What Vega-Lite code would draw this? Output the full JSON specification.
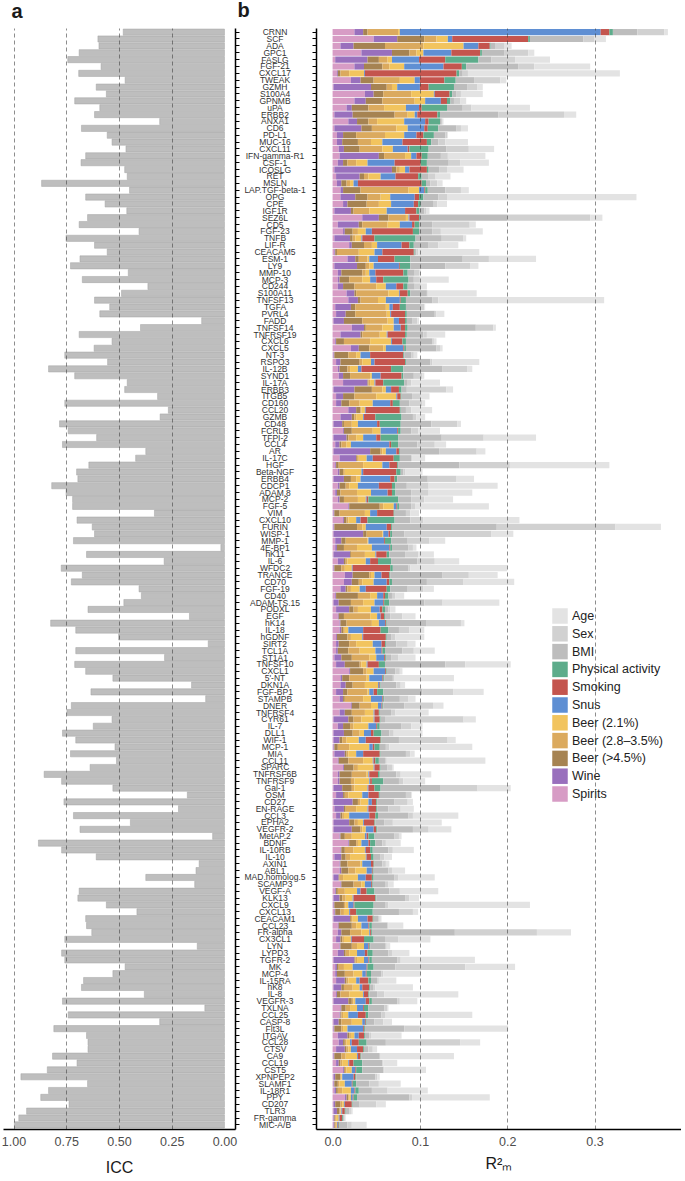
{
"$schema": "https://vega.github.io/schema/vega-lite/v6.json",
"padding": {"left": 1, "top": 1, "right": 0, "bottom": 0},
"background": "white",
"config": {"font": "Liberation Sans", "view": {"stroke": null}},
"datasets": {
"comps": [{"key":"age","name":"Age"},{"key":"sex","name":"Sex"},{"key":"bmi","name":"BMI"},{"key":"pa","name":"Physical activity"},{"key":"smk","name":"Smoking"},{"key":"snus","name":"Snus"},{"key":"b21","name":"Beer (2.1%)"},{"key":"b28","name":"Beer (2.8–3.5%)"},{"key":"b45","name":"Beer (>4.5%)"},{"key":"wine","name":"Wine"},{"key":"spir","name":"Spirits"}],
"prot": [
{"p":"CRNN","icc":0.48,"spir":0.025,"wine":0.010,"b45":0.005,"b28":0.035,"b21":0.002,"snus":0.230,"smk":0.010,"pa":0.004,"bmi":0.028,"sex":0.031,"age":0.004},
{"p":"SCF","icc":0.60,"spir":0.047,"wine":0.027,"b45":0.031,"b28":0.014,"b21":0.013,"snus":0.005,"smk":0.087,"pa":0.002,"bmi":0.061,"sex":0.013,"age":0.013},
{"p":"ADA","icc":0.595,"spir":0.009,"wine":0.015,"b45":0.036,"b28":0.044,"b21":0.046,"snus":0.017,"smk":0.013,"pa":0.001,"bmi":0.005,"sex":0.011,"age":0.008},
{"p":"GPC1","icc":0.689,"spir":0.033,"wine":0.035,"b45":0.020,"b28":0.008,"b21":0.008,"snus":0.032,"smk":0.033,"pa":0.002,"bmi":0.026,"sex":0.027,"age":0.007},
{"p":"FASLG","icc":0.743,"spir":0.003,"wine":0.037,"b45":0.013,"b28":0.010,"b21":0.005,"snus":0.031,"smk":0.030,"pa":0.038,"bmi":0.015,"sex":0.027,"age":0.040},
{"p":"FGF-21","icc":0.585,"spir":0.025,"wine":0.011,"b45":0.021,"b28":0.008,"b21":0.017,"snus":0.045,"smk":0.021,"pa":0.005,"bmi":0.060,"sex":0.018,"age":0.064},
{"p":"CXCL17","icc":0.691,"spir":0.005,"wine":0.001,"b45":0.003,"b28":0.010,"b21":0.017,"snus":0.001,"smk":0.105,"pa":0.003,"bmi":0.004,"sex":0.006,"age":0.174},
{"p":"TWEAK","icc":0.471,"spir":0.021,"wine":0.011,"b45":0.015,"b28":0.030,"b21":0.017,"snus":0.006,"smk":0.028,"pa":0.013,"bmi":0.021,"sex":0.030,"age":0.007},
{"p":"GZMH","icc":0.608,"spir":0.001,"wine":0.043,"b45":0.018,"b28":0.006,"b21":0.006,"snus":0.026,"smk":0.010,"pa":0.029,"bmi":0.015,"sex":0.012,"age":0.006},
{"p":"S100A4","icc":0.56,"spir":0.037,"wine":0.010,"b45":0.011,"b28":0.032,"b21":0.026,"snus":0.001,"smk":0.017,"pa":0.003,"bmi":0.005,"sex":0.005,"age":0.025},
{"p":"GPNMB","icc":0.71,"spir":0.025,"wine":0.013,"b45":0.019,"b28":0.037,"b21":0.012,"snus":0.018,"smk":0.007,"pa":0.004,"bmi":0.004,"sex":0.007,"age":0.007},
{"p":"uPA","icc":0.591,"spir":0.016,"wine":0.006,"b45":0.019,"b28":0.018,"b21":0.025,"snus":0.015,"smk":0.003,"pa":0.029,"bmi":0.018,"sex":0.010,"age":0.067},
{"p":"ERBB2","icc":0.616,"spir":0.002,"wine":0.021,"b45":0.048,"b28":0.015,"b21":0.008,"snus":0.003,"smk":0.023,"pa":0.003,"bmi":0.067,"sex":0.075,"age":0.014},
{"p":"ANXA1","icc":0.307,"spir":0.018,"wine":0.010,"b45":0.013,"b28":0.010,"b21":0.031,"snus":0.024,"smk":0.004,"pa":0.013,"bmi":0.002,"sex":0.001,"age":0.001},
{"p":"CD6","icc":0.678,"spir":0.002,"wine":0.031,"b45":0.012,"b28":0.028,"b21":0.013,"snus":0.019,"smk":0.004,"pa":0.012,"bmi":0.021,"sex":0.005,"age":0.008},
{"p":"PD-L1","icc":0.556,"spir":0.005,"wine":0.007,"b45":0.015,"b28":0.033,"b21":0.022,"snus":0.014,"smk":0.008,"pa":0.012,"bmi":0.013,"sex":0.002,"age":0.001},
{"p":"MUC-16","icc":0.533,"spir":0.005,"wine":0.006,"b45":0.018,"b28":0.015,"b21":0.013,"snus":0.023,"smk":0.028,"pa":0.005,"bmi":0.008,"sex":0.008,"age":0.026},
{"p":"CXCL11","icc":0.467,"spir":0.007,"wine":0.006,"b45":0.018,"b28":0.026,"b21":0.012,"snus":0.017,"smk":0.002,"pa":0.022,"bmi":0.020,"sex":0.026,"age":0.029},
{"p":"IFN-gamma-R1","icc":0.658,"spir":0.008,"wine":0.045,"b45":0.006,"b28":0.024,"b21":0.007,"snus":0.006,"smk":0.006,"pa":0.007,"bmi":0.015,"sex":0.008,"age":0.043},
{"p":"CSF-1","icc":0.68,"spir":0.006,"wine":0.006,"b45":0.005,"b28":0.010,"b21":0.013,"snus":0.031,"smk":0.030,"pa":0.007,"bmi":0.025,"sex":0.013,"age":0.033},
{"p":"ICOSLG","icc":0.473,"spir":0.002,"wine":0.066,"b45":0.005,"b28":0.004,"b21":0.006,"snus":0.005,"smk":0.020,"pa":0.002,"bmi":0.012,"sex":0.009,"age":0.019},
{"p":"RET","icc":0.461,"spir":0.004,"wine":0.027,"b45":0.005,"b28":0.005,"b21":0.014,"snus":0.017,"smk":0.026,"pa":0.004,"bmi":0.008,"sex":0.008,"age":0.017},
{"p":"MSLN","icc":0.867,"spir":0.005,"wine":0.005,"b45":0.006,"b28":0.004,"b21":0.004,"snus":0.005,"smk":0.073,"pa":0.005,"bmi":0.005,"sex":0.008,"age":0.006},
{"p":"LAP.TGF-beta-1","icc":0.45,"spir":0.009,"wine":0.003,"b45":0.020,"b28":0.055,"b21":0.012,"snus":0.006,"smk":0.001,"pa":0.003,"bmi":0.020,"sex":0.018,"age":0.009},
{"p":"OPG","icc":0.658,"spir":0.009,"wine":0.017,"b45":0.014,"b28":0.015,"b21":0.011,"snus":0.028,"smk":0.005,"pa":0.005,"bmi":0.017,"sex":0.010,"age":0.217},
{"p":"CPE","icc":0.566,"spir":0.012,"wine":0.005,"b45":0.022,"b28":0.014,"b21":0.014,"snus":0.026,"smk":0.005,"pa":0.003,"bmi":0.014,"sex":0.005,"age":0.011},
{"p":"IGF1R","icc":0.463,"spir":0.002,"wine":0.019,"b45":0.003,"b28":0.018,"b21":0.020,"snus":0.021,"smk":0.013,"pa":0.003,"bmi":0.006,"sex":0.002,"age":0.004},
{"p":"SEZ6L","icc":0.649,"spir":0.034,"wine":0.019,"b45":0.011,"b28":0.020,"b21":0.003,"snus":0.001,"smk":0.011,"pa":0.001,"bmi":0.100,"sex":0.095,"age":0.014},
{"p":"CD5","icc":0.689,"spir":0.006,"wine":0.024,"b45":0.004,"b28":0.029,"b21":0.014,"snus":0.014,"smk":0.003,"pa":0.005,"bmi":0.015,"sex":0.043,"age":0.007},
{"p":"FGF-23","icc":0.405,"spir":0.012,"wine":0.002,"b45":0.009,"b28":0.006,"b21":0.009,"snus":0.007,"smk":0.047,"pa":0.007,"bmi":0.015,"sex":0.010,"age":0.048},
{"p":"TNFB","icc":0.751,"spir":0.002,"wine":0.018,"b45":0.003,"b28":0.003,"b21":0.007,"snus":0.001,"smk":0.014,"pa":0.047,"bmi":0.030,"sex":0.025,"age":0.003},
{"p":"LIF-R","icc":0.616,"spir":0.019,"wine":0.003,"b45":0.014,"b28":0.009,"b21":0.006,"snus":0.028,"smk":0.009,"pa":0.005,"bmi":0.017,"sex":0.011,"age":0.023},
{"p":"CEACAM5","icc":0.556,"spir":0.002,"wine":0.001,"b45":0.002,"b28":0.025,"b21":0.018,"snus":0.009,"smk":0.036,"pa":0.001,"bmi":0.002,"sex":0.002,"age":0.070},
{"p":"ESM-1","icc":0.685,"spir":0.017,"wine":0.009,"b45":0.004,"b28":0.010,"b21":0.002,"snus":0.010,"smk":0.019,"pa":0.018,"bmi":0.060,"sex":0.030,"age":0.054},
{"p":"LY9","icc":0.73,"spir":0.002,"wine":0.026,"b45":0.010,"b28":0.004,"b21":0.005,"snus":0.029,"smk":0.001,"pa":0.012,"bmi":0.040,"sex":0.029,"age":0.009},
{"p":"MMP-10","icc":0.456,"spir":0.006,"wine":0.004,"b45":0.024,"b28":0.004,"b21":0.004,"snus":0.007,"smk":0.032,"pa":0.005,"bmi":0.008,"sex":0.005,"age":0.002},
{"p":"MCP-3","icc":0.674,"spir":0.006,"wine":0.002,"b45":0.011,"b28":0.015,"b21":0.009,"snus":0.007,"smk":0.008,"pa":0.029,"bmi":0.006,"sex":0.007,"age":0.033},
{"p":"CD244","icc":0.363,"spir":0.006,"wine":0.006,"b45":0.013,"b28":0.025,"b21":0.011,"snus":0.012,"smk":0.008,"pa":0.005,"bmi":0.008,"sex":0.007,"age":0.007},
{"p":"S100A11","icc":0.488,"spir":0.016,"wine":0.009,"b45":0.002,"b28":0.037,"b21":0.012,"snus":0.001,"smk":0.009,"pa":0.003,"bmi":0.019,"sex":0.001,"age":0.056},
{"p":"TNFSF13","icc":0.616,"spir":0.018,"wine":0.011,"b45":0.003,"b28":0.020,"b21":0.009,"snus":0.016,"smk":0.001,"pa":0.006,"bmi":0.030,"sex":0.007,"age":0.190},
{"p":"TGFA","icc":0.544,"spir":0.003,"wine":0.018,"b45":0.005,"b28":0.035,"b21":0.004,"snus":0.004,"smk":0.008,"pa":0.007,"bmi":0.017,"sex":0.004,"age":0.001},
{"p":"PVRL4","icc":0.591,"spir":0.004,"wine":0.011,"b45":0.011,"b28":0.036,"b21":0.004,"snus":0.001,"smk":0.016,"pa":0.002,"bmi":0.032,"sex":0.002,"age":0.009},
{"p":"FADD","icc":0.108,"spir":0.001,"wine":0.012,"b45":0.021,"b28":0.029,"b21":0.007,"snus":0.006,"smk":0.007,"pa":0.002,"bmi":0.006,"sex":0.006,"age":0.002},
{"p":"TNFSF14","icc":0.398,"spir":0.022,"wine":0.014,"b45":0.002,"b28":0.019,"b21":0.013,"snus":0.008,"smk":0.005,"pa":0.003,"bmi":0.078,"sex":0.020,"age":0.003},
{"p":"TNFRSF19","icc":0.689,"spir":0.009,"wine":0.023,"b45":0.002,"b28":0.020,"b21":0.008,"snus":0.001,"smk":0.020,"pa":0.002,"bmi":0.019,"sex":0.004,"age":0.021},
{"p":"CXCL6","icc":0.533,"spir":0.003,"wine":0.001,"b45":0.009,"b28":0.030,"b21":0.024,"snus":0.001,"smk":0.012,"pa":0.004,"bmi":0.030,"sex":0.002,"age":0.003},
{"p":"CXCL5","icc":0.618,"spir":0.021,"wine":0.009,"b45":0.012,"b28":0.016,"b21":0.003,"snus":0.020,"smk":0.001,"pa":0.002,"bmi":0.035,"sex":0.004,"age":0.003},
{"p":"NT-3","icc":0.757,"spir":0.001,"wine":0.001,"b45":0.016,"b28":0.009,"b21":0.005,"snus":0.011,"smk":0.038,"pa":0.001,"bmi":0.008,"sex":0.003,"age":0.004},
{"p":"RSPO3","icc":0.554,"spir":0.004,"wine":0.005,"b45":0.022,"b28":0.003,"b21":0.010,"snus":0.004,"smk":0.035,"pa":0.001,"bmi":0.028,"sex":0.002,"age":0.054},
{"p":"IL-12B","icc":0.834,"spir":0.006,"wine":0.002,"b45":0.009,"b28":0.003,"b21":0.009,"snus":0.004,"smk":0.034,"pa":0.014,"bmi":0.045,"sex":0.028,"age":0.006},
{"p":"SYND1","icc":0.71,"spir":0.007,"wine":0.005,"b45":0.008,"b28":0.023,"b21":0.002,"snus":0.010,"smk":0.024,"pa":0.002,"bmi":0.012,"sex":0.010,"age":0.002},
{"p":"IL-17A","icc":0.461,"spir":0.012,"wine":0.028,"b45":0.001,"b28":0.002,"b21":0.005,"snus":0.001,"smk":0.009,"pa":0.024,"bmi":0.004,"sex":0.004,"age":0.033},
{"p":"ERBB3","icc":0.473,"spir":0.001,"wine":0.024,"b45":0.020,"b28":0.012,"b21":0.004,"snus":0.006,"smk":0.009,"pa":0.003,"bmi":0.006,"sex":0.045,"age":0.008},
{"p":"ITGB5","icc":0.317,"spir":0.004,"wine":0.008,"b45":0.013,"b28":0.025,"b21":0.023,"snus":0.001,"smk":0.004,"pa":0.001,"bmi":0.012,"sex":0.010,"age":0.010},
{"p":"CD160","icc":0.757,"spir":0.004,"wine":0.006,"b45":0.009,"b28":0.012,"b21":0.015,"snus":0.020,"smk":0.003,"pa":0.008,"bmi":0.011,"sex":0.015,"age":0.003},
{"p":"CCL20","icc":0.266,"spir":0.018,"wine":0.009,"b45":0.005,"b28":0.001,"b21":0.004,"snus":0.001,"smk":0.039,"pa":0.001,"bmi":0.006,"sex":0.006,"age":0.024},
{"p":"GZMB","icc":0.305,"spir":0.009,"wine":0.013,"b45":0.003,"b28":0.002,"b21":0.008,"snus":0.001,"smk":0.013,"pa":0.030,"bmi":0.013,"sex":0.004,"age":0.010},
{"p":"CD48","icc":0.782,"spir":0.001,"wine":0.010,"b45":0.002,"b28":0.009,"b21":0.007,"snus":0.022,"smk":0.003,"pa":0.024,"bmi":0.035,"sex":0.030,"age":0.004},
{"p":"FCRLB","icc":0.741,"spir":0.012,"wine":0.001,"b45":0.009,"b28":0.024,"b21":0.009,"snus":0.019,"smk":0.001,"pa":0.003,"bmi":0.012,"sex":0.008,"age":0.025},
{"p":"TFPI-2","icc":0.606,"spir":0.001,"wine":0.015,"b45":0.002,"b28":0.009,"b21":0.008,"snus":0.015,"smk":0.005,"pa":0.020,"bmi":0.050,"sex":0.048,"age":0.060},
{"p":"CCL4","icc":0.768,"spir":0.003,"wine":0.005,"b45":0.002,"b28":0.006,"b21":0.005,"snus":0.044,"smk":0.002,"pa":0.008,"bmi":0.022,"sex":0.020,"age":0.013},
{"p":"AR","icc":0.373,"spir":0.001,"wine":0.042,"b45":0.012,"b28":0.002,"b21":0.004,"snus":0.012,"smk":0.003,"pa":0.001,"bmi":0.045,"sex":0.043,"age":0.010},
{"p":"IL-17C","icc":0.421,"spir":0.008,"wine":0.019,"b45":0.001,"b28":0.002,"b21":0.009,"snus":0.007,"smk":0.024,"pa":0.007,"bmi":0.013,"sex":0.001,"age":0.015},
{"p":"HGF","icc":0.643,"spir":0.003,"wine":0.001,"b45":0.003,"b28":0.028,"b21":0.022,"snus":0.008,"smk":0.009,"pa":0.001,"bmi":0.070,"sex":0.058,"age":0.114},
{"p":"Beta-NGF","icc":0.701,"spir":0.006,"wine":0.002,"b45":0.004,"b28":0.002,"b21":0.019,"snus":0.002,"smk":0.038,"pa":0.005,"bmi":0.003,"sex":0.002,"age":0.020},
{"p":"ERBB4","icc":0.695,"spir":0.001,"wine":0.012,"b45":0.008,"b28":0.006,"b21":0.005,"snus":0.034,"smk":0.005,"pa":0.003,"bmi":0.035,"sex":0.033,"age":0.020},
{"p":"CDCP1","icc":0.819,"spir":0.006,"wine":0.002,"b45":0.007,"b28":0.004,"b21":0.010,"snus":0.024,"smk":0.015,"pa":0.004,"bmi":0.013,"sex":0.025,"age":0.079},
{"p":"ADAM.8","icc":0.751,"spir":0.003,"wine":0.002,"b45":0.004,"b28":0.019,"b21":0.016,"snus":0.019,"smk":0.005,"pa":0.004,"bmi":0.018,"sex":0.020,"age":0.050},
{"p":"MCP-2","icc":0.72,"spir":0.006,"wine":0.002,"b45":0.005,"b28":0.016,"b21":0.009,"snus":0.001,"smk":0.002,"pa":0.034,"bmi":0.015,"sex":0.015,"age":0.033},
{"p":"FGF-5","icc":0.72,"spir":0.018,"wine":0.001,"b45":0.035,"b28":0.004,"b21":0.012,"snus":0.003,"smk":0.001,"pa":0.002,"bmi":0.014,"sex":0.005,"age":0.084},
{"p":"VIM","icc":0.332,"spir":0.001,"wine":0.001,"b45":0.006,"b28":0.029,"b21":0.006,"snus":0.008,"smk":0.019,"pa":0.001,"bmi":0.013,"sex":0.005,"age":0.010},
{"p":"CXCL10","icc":0.699,"spir":0.012,"wine":0.001,"b45":0.003,"b28":0.002,"b21":0.009,"snus":0.005,"smk":0.008,"pa":0.031,"bmi":0.018,"sex":0.015,"age":0.110},
{"p":"FURIN","icc":0.627,"spir":0.001,"wine":0.001,"b45":0.026,"b28":0.006,"b21":0.004,"snus":0.024,"smk":0.005,"pa":0.001,"bmi":0.120,"sex":0.136,"age":0.052},
{"p":"WISP-1","icc":0.616,"spir":0.001,"wine":0.034,"b45":0.004,"b28":0.018,"b21":0.001,"snus":0.006,"smk":0.002,"pa":0.002,"bmi":0.014,"sex":0.100,"age":0.025},
{"p":"MMP-1","icc":0.716,"spir":0.003,"wine":0.007,"b45":0.005,"b28":0.025,"b21":0.001,"snus":0.018,"smk":0.001,"pa":0.007,"bmi":0.019,"sex":0.025,"age":0.018},
{"p":"4E-BP1","icc":0.017,"spir":0.003,"wine":0.002,"b45":0.008,"b28":0.015,"b21":0.017,"snus":0.020,"smk":0.001,"pa":0.002,"bmi":0.019,"sex":0.005,"age":0.004},
{"p":"hK11","icc":0.654,"spir":0.001,"wine":0.019,"b45":0.001,"b28":0.016,"b21":0.012,"snus":0.001,"smk":0.012,"pa":0.003,"bmi":0.018,"sex":0.015,"age":0.018},
{"p":"IL-6","icc":0.286,"spir":0.006,"wine":0.007,"b45":0.002,"b28":0.002,"b21":0.021,"snus":0.005,"smk":0.009,"pa":0.015,"bmi":0.030,"sex":0.020,"age":0.028},
{"p":"WFDC2","icc":0.774,"spir":0.001,"wine":0.001,"b45":0.008,"b28":0.004,"b21":0.008,"snus":0.001,"smk":0.043,"pa":0.003,"bmi":0.018,"sex":0.002,"age":0.111},
{"p":"TRANCE","icc":0.674,"spir":0.014,"wine":0.009,"b45":0.019,"b28":0.002,"b21":0.004,"snus":0.008,"smk":0.009,"pa":0.001,"bmi":0.060,"sex":0.030,"age":0.033},
{"p":"CD70","icc":0.726,"spir":0.013,"wine":0.009,"b45":0.008,"b28":0.004,"b21":0.013,"snus":0.015,"smk":0.003,"pa":0.003,"bmi":0.040,"sex":0.042,"age":0.058},
{"p":"FGF-19","icc":0.405,"spir":0.009,"wine":0.006,"b45":0.002,"b28":0.004,"b21":0.010,"snus":0.007,"smk":0.024,"pa":0.004,"bmi":0.020,"sex":0.018,"age":0.012},
{"p":"CD40","icc":0.394,"spir":0.003,"wine":0.001,"b45":0.025,"b28":0.014,"b21":0.008,"snus":0.007,"smk":0.002,"pa":0.004,"bmi":0.004,"sex":0.004,"age":0.010},
{"p":"ADAM-TS.15","icc":0.477,"spir":0.001,"wine":0.006,"b45":0.014,"b28":0.014,"b21":0.013,"snus":0.010,"smk":0.001,"pa":0.006,"bmi":0.040,"sex":0.021,"age":0.065},
{"p":"PODXL","icc":0.647,"spir":0.004,"wine":0.015,"b45":0.005,"b28":0.005,"b21":0.015,"snus":0.010,"smk":0.003,"pa":0.003,"bmi":0.004,"sex":0.002,"age":0.006},
{"p":"EGF","icc":0.166,"spir":0.006,"wine":0.001,"b45":0.006,"b28":0.030,"b21":0.008,"snus":0.004,"smk":0.004,"pa":0.001,"bmi":0.006,"sex":0.014,"age":0.015},
{"p":"hK14","icc":0.824,"spir":0.008,"wine":0.001,"b45":0.007,"b28":0.029,"b21":0.008,"snus":0.007,"smk":0.001,"pa":0.001,"bmi":0.045,"sex":0.040,"age":0.004},
{"p":"IL-18","icc":0.705,"spir":0.008,"wine":0.002,"b45":0.002,"b28":0.002,"b21":0.004,"snus":0.017,"smk":0.020,"pa":0.009,"bmi":0.012,"sex":0.012,"age":0.017},
{"p":"hGDNF","icc":0.502,"spir":0.004,"wine":0.001,"b45":0.012,"b28":0.004,"b21":0.013,"snus":0.001,"smk":0.026,"pa":0.001,"bmi":0.005,"sex":0.005,"age":0.033},
{"p":"SIRT2","icc":0.077,"spir":0.004,"wine":0.003,"b45":0.012,"b28":0.008,"b21":0.019,"snus":0.010,"smk":0.004,"pa":0.001,"bmi":0.012,"sex":0.013,"age":0.009},
{"p":"TCL1A","icc":0.705,"spir":0.004,"wine":0.002,"b45":0.012,"b28":0.013,"b21":0.018,"snus":0.007,"smk":0.001,"pa":0.003,"bmi":0.020,"sex":0.013,"age":0.024},
{"p":"ST1A1","icc":0.284,"spir":0.002,"wine":0.008,"b45":0.012,"b28":0.020,"b21":0.008,"snus":0.009,"smk":0.001,"pa":0.001,"bmi":0.006,"sex":0.008,"age":0.020},
{"p":"TNFSF10","icc":0.71,"spir":0.004,"wine":0.010,"b45":0.017,"b28":0.002,"b21":0.006,"snus":0.001,"smk":0.013,"pa":0.007,"bmi":0.069,"sex":0.023,"age":0.052},
{"p":"CXCL1","icc":0.658,"spir":0.019,"wine":0.001,"b45":0.015,"b28":0.004,"b21":0.008,"snus":0.013,"smk":0.001,"pa":0.001,"bmi":0.010,"sex":0.005,"age":0.003},
{"p":"5'-NT","icc":0.529,"spir":0.009,"wine":0.002,"b45":0.008,"b28":0.020,"b21":0.003,"snus":0.015,"smk":0.001,"pa":0.001,"bmi":0.010,"sex":0.002,"age":0.068},
{"p":"DKN1A","icc":0.156,"spir":0.009,"wine":0.006,"b45":0.008,"b28":0.014,"b21":0.015,"snus":0.001,"smk":0.001,"pa":0.001,"bmi":0.018,"sex":0.005,"age":0.005},
{"p":"FGF-BP1","icc":0.633,"spir":0.004,"wine":0.008,"b45":0.005,"b28":0.023,"b21":0.002,"snus":0.005,"smk":0.004,"pa":0.007,"bmi":0.045,"sex":0.035,"age":0.035},
{"p":"STAMPB","icc":0.089,"spir":0.008,"wine":0.004,"b45":0.002,"b28":0.021,"b21":0.009,"snus":0.013,"smk":0.001,"pa":0.001,"bmi":0.018,"sex":0.010,"age":0.008},
{"p":"DNER","icc":0.726,"spir":0.021,"wine":0.001,"b45":0.009,"b28":0.013,"b21":0.008,"snus":0.004,"smk":0.001,"pa":0.001,"bmi":0.024,"sex":0.033,"age":0.012},
{"p":"TNFRSF4","icc":0.747,"spir":0.008,"wine":0.006,"b45":0.008,"b28":0.015,"b21":0.010,"snus":0.001,"smk":0.005,"pa":0.001,"bmi":0.013,"sex":0.005,"age":0.038},
{"p":"CYR61","icc":0.533,"spir":0.001,"wine":0.017,"b45":0.006,"b28":0.009,"b21":0.014,"snus":0.001,"smk":0.006,"pa":0.001,"bmi":0.005,"sex":0.090,"age":0.014},
{"p":"IL-7","icc":0.622,"spir":0.006,"wine":0.006,"b45":0.008,"b28":0.004,"b21":0.017,"snus":0.009,"smk":0.001,"pa":0.003,"bmi":0.025,"sex":0.011,"age":0.013},
{"p":"DLL1","icc":0.768,"spir":0.001,"wine":0.012,"b45":0.010,"b28":0.008,"b21":0.005,"snus":0.008,"smk":0.003,"pa":0.009,"bmi":0.009,"sex":0.005,"age":0.033},
{"p":"WIF-1","icc":0.705,"spir":0.001,"wine":0.007,"b45":0.003,"b28":0.005,"b21":0.014,"snus":0.008,"smk":0.017,"pa":0.001,"bmi":0.020,"sex":0.055,"age":0.010},
{"p":"MCP-1","icc":0.519,"spir":0.001,"wine":0.001,"b45":0.004,"b28":0.013,"b21":0.023,"snus":0.004,"smk":0.002,"pa":0.006,"bmi":0.007,"sex":0.004,"age":0.095},
{"p":"MIA","icc":0.73,"spir":0.002,"wine":0.012,"b45":0.002,"b28":0.002,"b21":0.009,"snus":0.008,"smk":0.019,"pa":0.001,"bmi":0.029,"sex":0.005,"age":0.005},
{"p":"CCL11","icc":0.512,"spir":0.006,"wine":0.001,"b45":0.011,"b28":0.017,"b21":0.011,"snus":0.001,"smk":0.002,"pa":0.004,"bmi":0.007,"sex":0.002,"age":0.113},
{"p":"SPARC","icc":0.637,"spir":0.012,"wine":0.001,"b45":0.011,"b28":0.005,"b21":0.018,"snus":0.001,"smk":0.006,"pa":0.001,"bmi":0.008,"sex":0.005,"age":0.002},
{"p":"TNFRSF6B","icc":0.855,"spir":0.006,"wine":0.002,"b45":0.014,"b28":0.017,"b21":0.002,"snus":0.001,"smk":0.010,"pa":0.002,"bmi":0.019,"sex":0.005,"age":0.035},
{"p":"TNFRSF9","icc":0.772,"spir":0.006,"wine":0.002,"b45":0.013,"b28":0.004,"b21":0.017,"snus":0.001,"smk":0.002,"pa":0.013,"bmi":0.018,"sex":0.005,"age":0.025},
{"p":"Gal-1","icc":0.529,"spir":0.001,"wine":0.010,"b45":0.011,"b28":0.003,"b21":0.015,"snus":0.001,"smk":0.007,"pa":0.007,"bmi":0.068,"sex":0.043,"age":0.038},
{"p":"OSM","icc":0.176,"spir":0.004,"wine":0.008,"b45":0.002,"b28":0.004,"b21":0.016,"snus":0.007,"smk":0.012,"pa":0.001,"bmi":0.030,"sex":0.006,"age":0.001},
{"p":"CD27","icc":0.761,"spir":0.001,"wine":0.022,"b45":0.006,"b28":0.003,"b21":0.009,"snus":0.004,"smk":0.005,"pa":0.001,"bmi":0.020,"sex":0.015,"age":0.006},
{"p":"EN-RAGE","icc":0.218,"spir":0.002,"wine":0.011,"b45":0.002,"b28":0.012,"b21":0.013,"snus":0.001,"smk":0.009,"pa":0.001,"bmi":0.013,"sex":0.014,"age":0.015},
{"p":"CCL3","icc":0.716,"spir":0.004,"wine":0.005,"b45":0.002,"b28":0.002,"b21":0.006,"snus":0.023,"smk":0.007,"pa":0.003,"bmi":0.035,"sex":0.005,"age":0.052},
{"p":"EPHA2","icc":0.446,"spir":0.001,"wine":0.018,"b45":0.006,"b28":0.004,"b21":0.006,"snus":0.001,"smk":0.012,"pa":0.001,"bmi":0.010,"sex":0.010,"age":0.056},
{"p":"VEGFR-2","icc":0.685,"spir":0.001,"wine":0.021,"b45":0.010,"b28":0.002,"b21":0.004,"snus":0.009,"smk":0.003,"pa":0.001,"bmi":0.041,"sex":0.018,"age":0.026},
{"p":"MetAP.2","icc":0.056,"spir":0.008,"wine":0.001,"b45":0.005,"b28":0.008,"b21":0.015,"snus":0.002,"smk":0.002,"pa":0.007,"bmi":0.023,"sex":0.005,"age":0.003},
{"p":"BDNF","icc":0.882,"spir":0.018,"wine":0.001,"b45":0.008,"b28":0.002,"b21":0.004,"snus":0.008,"smk":0.002,"pa":0.006,"bmi":0.008,"sex":0.004,"age":0.017},
{"p":"IL-10RB","icc":0.772,"spir":0.009,"wine":0.001,"b45":0.004,"b28":0.010,"b21":0.013,"snus":0.001,"smk":0.005,"pa":0.003,"bmi":0.018,"sex":0.005,"age":0.024},
{"p":"IL-10","icc":0.608,"spir":0.002,"wine":0.008,"b45":0.005,"b28":0.005,"b21":0.018,"snus":0.001,"smk":0.005,"pa":0.003,"bmi":0.008,"sex":0.004,"age":0.009},
{"p":"AXIN1","icc":0.12,"spir":0.008,"wine":0.001,"b45":0.008,"b28":0.015,"b21":0.002,"snus":0.010,"smk":0.003,"pa":0.001,"bmi":0.009,"sex":0.004,"age":0.004},
{"p":"ABL1","icc":0.135,"spir":0.008,"wine":0.002,"b45":0.008,"b28":0.008,"b21":0.013,"snus":0.006,"smk":0.001,"pa":0.001,"bmi":0.017,"sex":0.004,"age":0.015},
{"p":"MAD.homolog.5","icc":0.373,"spir":0.001,"wine":0.006,"b45":0.001,"b28":0.004,"b21":0.017,"snus":0.009,"smk":0.007,"pa":0.002,"bmi":0.024,"sex":0.004,"age":0.042},
{"p":"SCAMP3","icc":0.141,"spir":0.009,"wine":0.001,"b45":0.014,"b28":0.009,"b21":0.004,"snus":0.007,"smk":0.001,"pa":0.001,"bmi":0.014,"sex":0.004,"age":0.006},
{"p":"VEGF-A","icc":0.689,"spir":0.003,"wine":0.001,"b45":0.002,"b28":0.008,"b21":0.014,"snus":0.004,"smk":0.007,"pa":0.009,"bmi":0.017,"sex":0.012,"age":0.044},
{"p":"KLK13","icc":0.695,"spir":0.001,"wine":0.007,"b45":0.003,"b28":0.004,"b21":0.008,"snus":0.001,"smk":0.025,"pa":0.001,"bmi":0.033,"sex":0.005,"age":0.011},
{"p":"CXCL9","icc":0.56,"spir":0.001,"wine":0.001,"b45":0.011,"b28":0.002,"b21":0.003,"snus":0.006,"smk":0.001,"pa":0.022,"bmi":0.013,"sex":0.004,"age":0.162},
{"p":"CXCL13","icc":0.415,"spir":0.002,"wine":0.001,"b45":0.006,"b28":0.004,"b21":0.006,"snus":0.001,"smk":0.007,"pa":0.019,"bmi":0.030,"sex":0.016,"age":0.006},
{"p":"CEACAM1","icc":0.658,"spir":0.001,"wine":0.019,"b45":0.001,"b28":0.002,"b21":0.006,"snus":0.011,"smk":0.006,"pa":0.001,"bmi":0.005,"sex":0.002,"age":0.002},
{"p":"CCL23","icc":0.654,"spir":0.006,"wine":0.001,"b45":0.015,"b28":0.005,"b21":0.006,"snus":0.008,"smk":0.001,"pa":0.003,"bmi":0.018,"sex":0.001,"age":0.017},
{"p":"FR-alpha","icc":0.629,"spir":0.006,"wine":0.004,"b45":0.010,"b28":0.013,"b21":0.009,"snus":0.001,"smk":0.001,"pa":0.001,"bmi":0.095,"sex":0.094,"age":0.039},
{"p":"CX3CL1","icc":0.757,"spir":0.004,"wine":0.005,"b45":0.002,"b28":0.002,"b21":0.008,"snus":0.001,"smk":0.014,"pa":0.011,"bmi":0.013,"sex":0.015,"age":0.037},
{"p":"LYN","icc":0.129,"spir":0.008,"wine":0.001,"b45":0.013,"b28":0.006,"b21":0.008,"snus":0.005,"smk":0.001,"pa":0.001,"bmi":0.017,"sex":0.002,"age":0.004},
{"p":"LYPD3","icc":0.772,"spir":0.006,"wine":0.007,"b45":0.002,"b28":0.004,"b21":0.009,"snus":0.009,"smk":0.003,"pa":0.006,"bmi":0.018,"sex":0.004,"age":0.020},
{"p":"TGFR-2","icc":0.757,"spir":0.001,"wine":0.024,"b45":0.001,"b28":0.002,"b21":0.008,"snus":0.005,"smk":0.001,"pa":0.003,"bmi":0.029,"sex":0.004,"age":0.085},
{"p":"MK","icc":0.471,"spir":0.003,"wine":0.002,"b45":0.002,"b28":0.006,"b21":0.010,"snus":0.016,"smk":0.001,"pa":0.007,"bmi":0.025,"sex":0.080,"age":0.057},
{"p":"MCP-4","icc":0.529,"spir":0.003,"wine":0.002,"b45":0.009,"b28":0.010,"b21":0.010,"snus":0.004,"smk":0.001,"pa":0.005,"bmi":0.012,"sex":0.002,"age":0.043},
{"p":"IL-15RA","icc":0.668,"spir":0.004,"wine":0.010,"b45":0.002,"b28":0.002,"b21":0.009,"snus":0.004,"smk":0.010,"pa":0.003,"bmi":0.007,"sex":0.002,"age":0.020},
{"p":"hK8","icc":0.678,"spir":0.001,"wine":0.009,"b45":0.003,"b28":0.010,"b21":0.008,"snus":0.003,"smk":0.008,"pa":0.001,"bmi":0.004,"sex":0.002,"age":0.043},
{"p":"IL-8","icc":0.38,"spir":0.004,"wine":0.001,"b45":0.004,"b28":0.010,"b21":0.016,"snus":0.001,"smk":0.005,"pa":0.001,"bmi":0.009,"sex":0.008,"age":0.085},
{"p":"VEGFR-3","icc":0.768,"spir":0.001,"wine":0.017,"b45":0.004,"b28":0.002,"b21":0.002,"snus":0.012,"smk":0.004,"pa":0.003,"bmi":0.029,"sex":0.003,"age":0.020},
{"p":"TXLNA","icc":0.093,"spir":0.009,"wine":0.001,"b45":0.005,"b28":0.005,"b21":0.008,"snus":0.007,"smk":0.001,"pa":0.005,"bmi":0.018,"sex":0.004,"age":0.001},
{"p":"CCL25","icc":0.741,"spir":0.008,"wine":0.001,"b45":0.001,"b28":0.002,"b21":0.006,"snus":0.011,"smk":0.009,"pa":0.003,"bmi":0.015,"sex":0.004,"age":0.100},
{"p":"CASP-8","icc":0.307,"spir":0.001,"wine":0.006,"b45":0.003,"b28":0.012,"b21":0.012,"snus":0.003,"smk":0.001,"pa":0.001,"bmi":0.009,"sex":0.010,"age":0.010},
{"p":"Flt3L","icc":0.809,"spir":0.001,"wine":0.001,"b45":0.008,"b28":0.002,"b21":0.005,"snus":0.018,"smk":0.001,"pa":0.001,"bmi":0.045,"sex":0.018,"age":0.101},
{"p":"ITGAV","icc":0.654,"spir":0.006,"wine":0.011,"b45":0.002,"b28":0.002,"b21":0.004,"snus":0.005,"smk":0.006,"pa":0.001,"bmi":0.005,"sex":0.002,"age":0.035},
{"p":"CCL28","icc":0.647,"spir":0.007,"wine":0.005,"b45":0.002,"b28":0.002,"b21":0.004,"snus":0.002,"smk":0.008,"pa":0.009,"bmi":0.022,"sex":0.085,"age":0.023},
{"p":"CTSV","icc":0.647,"spir":0.004,"wine":0.010,"b45":0.002,"b28":0.002,"b21":0.003,"snus":0.007,"smk":0.007,"pa":0.001,"bmi":0.005,"sex":0.005,"age":0.005},
{"p":"CA9","icc":0.815,"spir":0.001,"wine":0.001,"b45":0.008,"b28":0.005,"b21":0.013,"snus":0.001,"smk":0.003,"pa":0.001,"bmi":0.021,"sex":0.001,"age":0.084},
{"p":"CCL19","icc":0.699,"spir":0.004,"wine":0.003,"b45":0.002,"b28":0.002,"b21":0.007,"snus":0.001,"smk":0.005,"pa":0.010,"bmi":0.023,"sex":0.001,"age":0.016},
{"p":"CST5","icc":0.84,"spir":0.012,"wine":0.001,"b45":0.001,"b28":0.002,"b21":0.006,"snus":0.004,"smk":0.001,"pa":0.007,"bmi":0.024,"sex":0.001,"age":0.048},
{"p":"XPNPEP2","icc":0.965,"spir":0.001,"wine":0.002,"b45":0.006,"b28":0.001,"b21":0.001,"snus":0.013,"smk":0.002,"pa":0.001,"bmi":0.022,"sex":0.002,"age":0.003},
{"p":"SLAMF1","icc":0.649,"spir":0.001,"wine":0.001,"b45":0.004,"b28":0.002,"b21":0.006,"snus":0.008,"smk":0.001,"pa":0.004,"bmi":0.015,"sex":0.011,"age":0.025},
{"p":"IL-18R1","icc":0.834,"spir":0.002,"wine":0.002,"b45":0.002,"b28":0.005,"b21":0.010,"snus":0.004,"smk":0.001,"pa":0.004,"bmi":0.015,"sex":0.018,"age":0.046},
{"p":"PPY","icc":0.871,"spir":0.014,"wine":0.002,"b45":0.002,"b28":0.001,"b21":0.002,"snus":0.002,"smk":0.001,"pa":0.004,"bmi":0.060,"sex":0.003,"age":0.089},
{"p":"CD207","icc":0.737,"spir":0.001,"wine":0.002,"b45":0.006,"b28":0.002,"b21":0.002,"snus":0.001,"smk":0.008,"pa":0.001,"bmi":0.008,"sex":0.019,"age":0.011},
{"p":"TLR3","icc":0.938,"spir":0.001,"wine":0.004,"b45":0.003,"b28":0.001,"b21":0.001,"snus":0.001,"smk":0.003,"pa":0.001,"bmi":0.004,"sex":0.002,"age":0.002},
{"p":"FR-gamma","icc":0.975,"spir":0.001,"wine":0.001,"b45":0.001,"b28":0.001,"b21":0.003,"snus":0.001,"smk":0.003,"pa":0.001,"bmi":0.001,"sex":0.001,"age":0.001},
{"p":"MIC-A/B","icc":0.996,"spir":0.001,"wine":0.001,"b45":0.001,"b28":0.001,"b21":0.001,"snus":0.001,"smk":0.001,"pa":0.001,"bmi":0.009,"sex":0.005,"age":0.017}
]
},
"data": {"name": "prot"},
"spacing": 81,
"bounds": "flush",
"resolve": {"scale": {"x": "independent", "y": "independent", "color": "independent"}, "axis": {"x": "independent", "y": "independent"}, "legend": {"color": "independent"}},
"hconcat": [
{
"width": 232, "height": 1101,
"title": {"text": "a", "anchor": "start", "frame": "group", "fontSize": 20, "fontWeight": "bold", "dx": 8.5, "baseline": "alphabetic", "offset": -9.6, "color": "#1a1a1a"},
"mark": {"type": "bar", "color": "#bebebe", "stroke": "#a3a3a3", "strokeWidth": 0.5},
"encoding": {
"y": {"field": "p", "type": "nominal", "sort": null, "scale": {"paddingInner": 0.1, "paddingOuter": 0.15},
"axis": {"orient": "right", "labels": false, "title": null, "ticks": true, "tickSize": 4, "tickColor": "#000", "tickWidth": 1, "domainColor": "#000", "domainWidth": 1.5, "grid": false}},
"x": {"field": "icc", "type": "quantitative", "scale": {"domain": [-0.05, 1.05], "reverse": true, "nice": false, "zero": false},
"axis": {"values": [1, 0.75, 0.5, 0.25, 0], "format": ".2f", "title": "ICC", "grid": true, "gridDash": [4, 3], "gridColor": "#404040", "gridWidth": 0.8, "gridOpacity": {"condition": {"test": "datum.value === 0", "value": 0}, "value": 0.75}, "ticks": false, "domainColor": "#000", "domainWidth": 1.5, "labelFontSize": 12.5, "labelColor": "#4d4d4d", "labelPadding": 6, "titleFontSize": 16, "titleFontWeight": "normal", "titleColor": "#1a1a1a", "titlePadding": 12, "zindex": 1}}
}
},
{
"width": 365, "height": 1101,
"title": {"text": "b", "anchor": "start", "frame": "group", "fontSize": 20, "fontWeight": "bold", "dx": -78.5, "baseline": "alphabetic", "offset": -9.6, "color": "#1a1a1a"},
"transform": [
{"fold": ["spir", "wine", "b45", "b28", "b21", "snus", "smk", "pa", "bmi", "sex", "age"], "as": ["key", "r2"]},
{"lookup": "key", "from": {"data": {"name": "comps"}, "key": "key", "fields": ["name"]}},
{"calculate": "indexof(['spir','wine','b45','b28','b21','snus','smk','pa','bmi','sex','age'], datum.key)", "as": "ord"}
],
"mark": {"type": "bar"},
"encoding": {
"y": {"field": "p", "type": "nominal", "sort": null, "scale": {"paddingInner": 0.1, "paddingOuter": 0.15},
"axis": {"orient": "left", "title": null, "labelAlign": "center", "labelPadding": 37.5, "tickSize": 4, "tickColor": "#000", "tickWidth": 1, "labelFontSize": 8.5, "labelColor": "#333", "labelOverlap": false, "labelBound": false, "domainColor": "#000", "domainWidth": 1.5, "grid": false}},
"x": {"field": "r2", "type": "quantitative", "stack": "zero", "scale": {"domain": [-0.019, 0.399], "nice": false, "zero": false},
"axis": {"values": [0, 0.1, 0.2, 0.3], "format": ".1f", "title": "R²ₘ", "grid": true, "gridDash": [4, 3], "gridColor": "#404040", "gridWidth": 0.8, "gridOpacity": {"condition": {"test": "datum.value === 0", "value": 0}, "value": 0.75}, "ticks": false, "domainColor": "#000", "domainWidth": 1.5, "labelFontSize": 12.5, "labelColor": "#4d4d4d", "labelPadding": 6, "titleFontSize": 16, "titleFontWeight": "normal", "titleColor": "#1a1a1a", "titlePadding": 8, "zindex": 1}},
"color": {"field": "name", "type": "nominal",
"scale": {"domain": ["Age", "Sex", "BMI", "Physical activity", "Smoking", "Snus", "Beer (2.1%)", "Beer (2.8–3.5%)", "Beer (>4.5%)", "Wine", "Spirits"],
"range": ["#e3e3e3", "#d1d1d1", "#bdbdbd", "#5dac8b", "#c4554e", "#5f8fd3", "#f2c45e", "#dbaa5e", "#a68352", "#9970bd", "#d79cc5"]},
"legend": {"title": null, "orient": "none", "legendX": 236, "legendY": 580, "padding": 0, "symbolType": "square", "symbolSize": 240, "symbolStrokeWidth": 0, "symbolOpacity": 1, "labelFontSize": 12.5, "labelColor": "#222", "labelOffset": 4, "rowPadding": 1.8, "labelLimit": 200}},
"order": {"field": "ord", "type": "quantitative"}
}
}
]
}
